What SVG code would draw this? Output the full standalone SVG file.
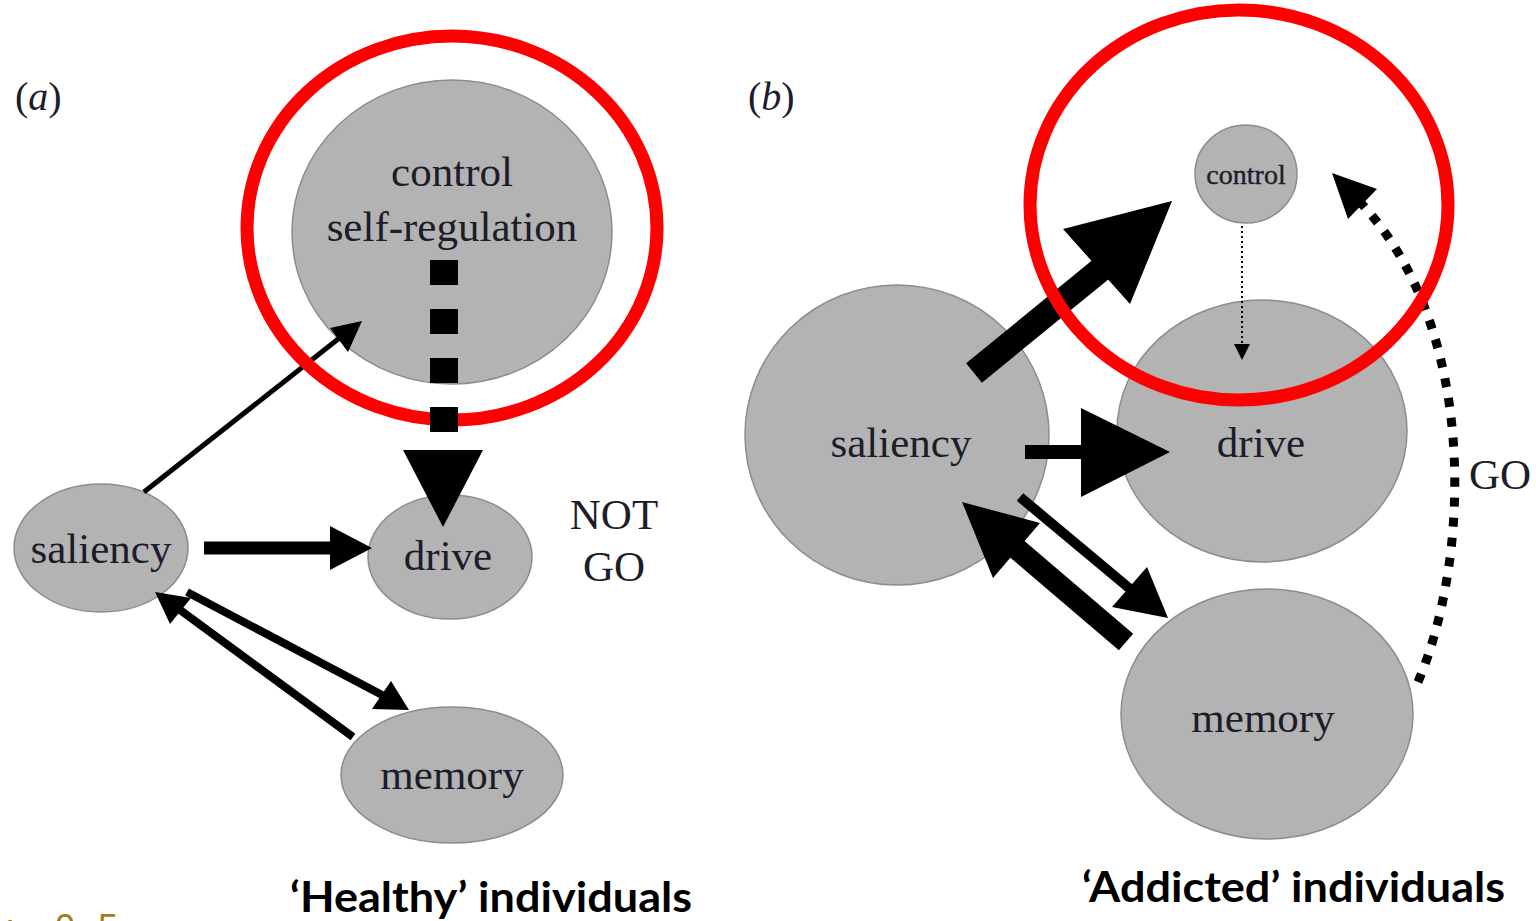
<svg xmlns="http://www.w3.org/2000/svg" width="1536" height="921" viewBox="0 0 1536 921">
<style>
.node{fill:#b3b3b3;stroke:#8c8c8c;stroke-width:1.5}
.lbl{font-family:"Liberation Serif","Times New Roman",serif;font-size:43px;fill:#1c1c2a;text-anchor:middle}
.ring{fill:none;stroke:#ff0000;stroke-width:13}
.ln{stroke:#000;fill:none}
.hd{fill:#000}
.cap{font-family:Lato,"Liberation Sans",sans-serif;font-weight:bold;font-size:42px;fill:#000}
</style>
<rect width="1536" height="921" fill="#fff"/>

<text x="15" y="110" class="lbl" style="text-anchor:start;font-size:40px">(<tspan font-style="italic">a</tspan>)</text>
<text x="748" y="110" class="lbl" style="text-anchor:start;font-size:40px">(<tspan font-style="italic">b</tspan>)</text>

<!-- panel a nodes -->
<g id="a-control"><ellipse class="node" cx="452" cy="232" rx="160" ry="152"/>
<text class="lbl" x="452" y="186">control</text><text class="lbl" x="452" y="241">self-regulation</text></g>
<g id="a-saliency"><ellipse class="node" cx="101" cy="548" rx="87" ry="64"/><text class="lbl" x="101" y="563">saliency</text></g>
<g id="a-drive"><ellipse class="node" cx="450" cy="557" rx="82" ry="62"/><text class="lbl" x="448" y="570">drive</text></g>
<g id="a-memory"><ellipse class="node" cx="452" cy="775" rx="111" ry="68"/><text class="lbl" x="452" y="789">memory</text></g>
<g id="a-notgo"><text class="lbl" x="614" y="529">NOT</text><text class="lbl" x="614" y="581">GO</text></g>

<!-- panel b nodes -->
<g id="b-saliency"><ellipse class="node" cx="897" cy="435" rx="152" ry="150"/><text class="lbl" x="901" y="457">saliency</text></g>
<g id="b-drive"><ellipse class="node" cx="1262" cy="431" rx="145" ry="131"/><text class="lbl" x="1261" y="457">drive</text></g>
<g id="b-memory"><ellipse class="node" cx="1267" cy="714" rx="146" ry="125"/><text class="lbl" x="1263" y="732">memory</text></g>
<g id="b-control"><ellipse class="node" cx="1246" cy="174" rx="51" ry="49"/><text class="lbl" x="1246" y="184" style="font-size:28px;stroke:#1c1c2a;stroke-width:0.4">control</text></g>
<g id="b-go"><text class="lbl" x="1500" y="489">GO</text></g>

<!-- connectors -->
<g id="connectors">
<!-- a: saliency -> control -->
<line class="ln" x1="144" y1="492" x2="342" y2="336" stroke-width="5"/>
<polygon class="hd" points="362,321 330,328 348,352"/>
<!-- a: saliency -> drive -->
<line class="ln" x1="204" y1="548" x2="334" y2="548" stroke-width="13"/>
<polygon class="hd" points="372,548 330,526 330,570"/>
<!-- a: saliency -> memory -->
<line class="ln" x1="187" y1="592" x2="384" y2="696" stroke-width="8"/>
<polygon class="hd" points="409,710 372,709 391,681"/>
<!-- a: memory -> saliency -->
<line class="ln" x1="353" y1="737" x2="176" y2="607" stroke-width="8"/>
<polygon class="hd" points="155,592 170,624 191,598"/>

<!-- b: saliency -> control -->
<line class="ln" x1="974" y1="373" x2="1105" y2="266" stroke-width="25"/>
<polygon class="hd" points="1172,201 1063,229 1130,304"/>
<!-- b: saliency -> drive -->
<line class="ln" x1="1025" y1="452" x2="1083" y2="452" stroke-width="14"/>
<polygon class="hd" points="1170,452 1081,408 1081,497"/>
<!-- b: saliency -> memory -->
<line class="ln" x1="1020" y1="497" x2="1135" y2="593" stroke-width="10"/>
<polygon class="hd" points="1168,618 1112,607 1147,567"/>
<!-- b: memory -> saliency -->
<line class="ln" x1="1126" y1="642" x2="1010" y2="543" stroke-width="22"/>
<polygon class="hd" points="962,502 993,578 1040,523"/>
<!-- b: control -> drive (dotted) -->
<line class="ln" x1="1242" y1="226" x2="1242" y2="346" stroke-width="2" stroke-dasharray="2 3"/>
<polygon class="hd" points="1242,360 1234,344 1250,344"/>
<!-- b: memory -> control (GO, dotted curve) -->
<path class="ln" d="M1418,682 C1470,560 1480,330 1360,202" stroke-width="9" stroke-dasharray="9 11"/>
<polygon class="hd" points="1332,173 1348,219 1377,189"/>
</g>

<!-- highlight rings -->
<g id="highlights">
<ellipse class="ring" cx="452" cy="228" rx="205" ry="192"/>
<ellipse class="ring" cx="1239" cy="205" rx="209" ry="195"/>
</g>

<!-- a: control -> drive (thick dashed, drawn over ring) -->
<g id="connector-a-control-drive">
<line class="ln" x1="444" y1="260" x2="444" y2="432" stroke-width="28" stroke-dasharray="25 24"/>
<polygon class="hd" points="403,450 483,450 443,527"/>
</g>

<g id="captions">
<text class="cap" x="290" y="912" textLength="402" lengthAdjust="spacingAndGlyphs">‘Healthy’ individuals</text>
<text class="cap" x="1082" y="902" textLength="423" lengthAdjust="spacingAndGlyphs">‘Addicted’ individuals</text>
<text y="940" style="font-family:'Liberation Sans',sans-serif;font-size:36px;fill:#a07c1a"><tspan x="-6">y</tspan><tspan x="55">0</tspan><tspan x="78">.</tspan><tspan x="98">5</tspan></text>
</g>
</svg>
